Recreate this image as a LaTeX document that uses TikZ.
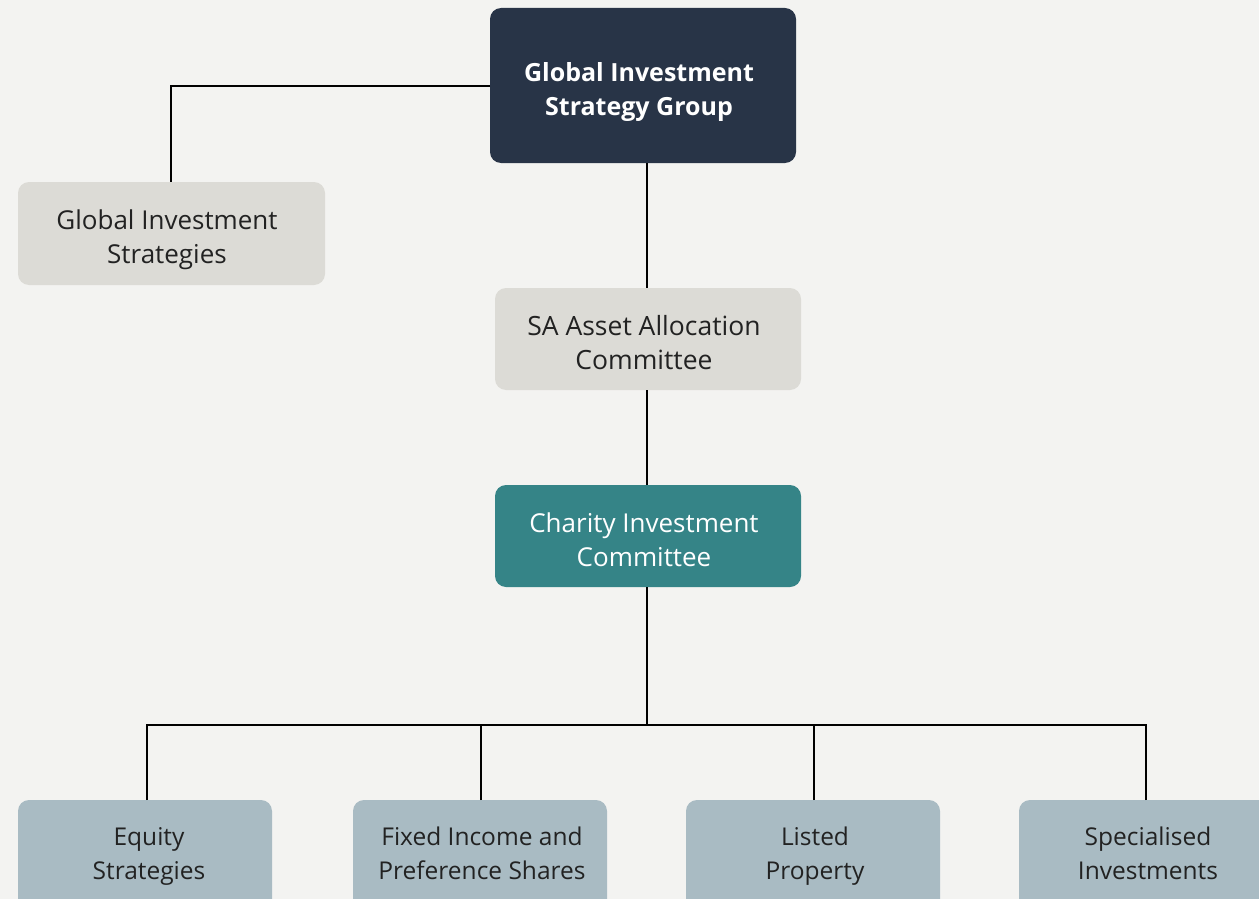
\documentclass[tikz,border=0pt]{standalone}
\usepackage{fontspec}
\setmainfont{Open Sans}
\definecolor{bg}{HTML}{F3F3F1}
\definecolor{navy}{HTML}{283447}
\definecolor{stone}{HTML}{DCDBD6}
\definecolor{teal}{HTML}{358487}
\definecolor{slate}{HTML}{A9BBC3}
\definecolor{ink}{HTML}{222222}
\newcommand{\boxline}[1]{\strut#1}
\begin{document}
\begin{tikzpicture}[x=1pt,y=-1pt,
  box/.style={inner sep=0pt,align=center,
    font=\fontsize{26}{34}\selectfont,text=ink},
  leaf/.style={box,font=\fontsize{24.5}{34}\selectfont},
  link/.style={draw=black,line width=1.6pt}]
\useasboundingbox (0,0) rectangle (1259,899);
\fill[bg] (0,0) rectangle (1259,899);
\clip (0,0) rectangle (1259,899);

% box backgrounds
\fill[navy,rounded corners=11pt] (490,8) rectangle (796,163);
\fill[stone,rounded corners=11pt] (18,182) rectangle (325,285);
\fill[stone,rounded corners=11pt] (495,288) rectangle (801,390);
\fill[teal,rounded corners=11pt] (495,485) rectangle (801,587);
\fill[slate,rounded corners=11pt] (18,800) rectangle (272,915);
\fill[slate,rounded corners=11pt] (353,800) rectangle (607,915);
\fill[slate,rounded corners=11pt] (686,800) rectangle (940,915);
\fill[slate,rounded corners=11pt] (1019,800) rectangle (1275,915);

% labels
\node[box,text=white,font=\fontsize{25}{34}\selectfont\bfseries] (gisg) at (639,91.5)
  {\boxline{Global Investment}\\\boxline{Strategy Group}};
\node[box] (gis) at (167,240) {\boxline{Global Investment}\\\boxline{Strategies}};
\node[box,font=\fontsize{26.5}{34}\selectfont] (saac) at (644,345.5) {\boxline{SA Asset Allocation}\\\boxline{Committee}};
\node[box,text=white,font=\fontsize{26}{34}\selectfont\addfontfeature{Weight=300}] (cic) at (644,542.5)
  {\boxline{Charity Investment}\\\boxline{Committee}};
\node[leaf] (eq) at (149,855.5) {\boxline{Equity}\\\boxline{Strategies}};
\node[leaf] (fi) at (482,855.5) {\boxline{Fixed Income and}\\\boxline{Preference Shares}};
\node[leaf] (lp) at (815,855.5) {\boxline{Listed}\\\boxline{Property}};
\node[leaf] (si) at (1148,855.5) {\boxline{Specialised}\\\boxline{Investments}};

% connector ends on the box edges
\coordinate (gisgL) at (490,86);
\coordinate (gisgB) at (647,163);
\coordinate (gisT) at (171,182);
\coordinate (saacT) at (647,288);
\coordinate (saacB) at (647,390);
\coordinate (cicT) at (647,485);
\coordinate (cicB) at (647,587);
\coordinate (eqT) at (147,800);
\coordinate (fiT) at (481,800);
\coordinate (lpT) at (814,800);
\coordinate (siT) at (1146,800);
\coordinate (bus) at (647,725);

% connectors
\draw[link] (gisgL) -| (gisT);
\draw[link] (gisgB) -- (saacT);
\draw[link] (saacB) -- (cicT);
\draw[link] (cicB) -- (bus);
\draw[link] (eqT) |- (bus);
\draw[link] (siT) |- (bus);
\draw[link] (fiT) -- (fiT |- bus);
\draw[link] (lpT) -- (lpT |- bus);
\end{tikzpicture}
\end{document}
